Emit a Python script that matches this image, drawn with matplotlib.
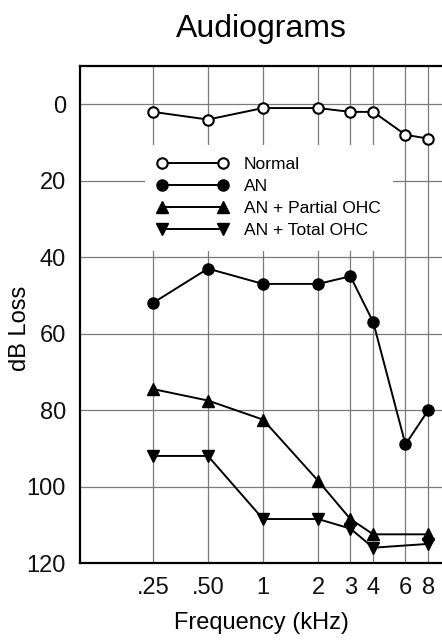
import matplotlib
matplotlib.use("Agg")
import matplotlib.pyplot as plt
from matplotlib.ticker import FixedLocator, FixedFormatter, NullLocator

plt.rcParams['font.family'] = ['Liberation Sans', 'DejaVu Sans']

freqs = [0.25, 0.5, 1, 2, 3, 4, 6, 8]
tick_labels = ['.25', '.50', '1', '2', '3', '4', '6', '8']

normal = [2, 4, 1, 1, 2, 2, 8, 9]
an = [52, 43, 47, 47, 45, 57, 89, 80]
partial_freqs = [0.25, 0.5, 1, 2, 3, 4, 8]
an_partial = [74.5, 77.5, 82.5, 98.5, 108.5, 112.5, 112.5]
total_freqs = [0.25, 0.5, 1, 2, 3, 4, 8]
an_total = [92, 92, 108.5, 108.5, 111, 116, 115]

fig = plt.figure(figsize=(4.42, 6.43), dpi=100)
ax = fig.add_axes([80/442, 1-563/643, 1-80/442, (563-66)/643])

ax.set_xscale('log')
ax.set_xlim(0.1, 9.5)
ax.set_ylim(120, -10)

lw = 1.4
ax.plot(freqs, normal, '-o', color='black', lw=lw, ms=7.5, mfc='white', mec='black', mew=1.5, label='Normal', zorder=3)
ax.plot(freqs, an, '-o', color='black', lw=lw, ms=8, label='AN', zorder=3)
ax.plot(partial_freqs, an_partial, '-^', color='black', lw=lw, ms=8, label='AN + Partial OHC', zorder=3)
ax.plot(total_freqs, an_total, '-v', color='black', lw=lw, ms=8, label='AN + Total OHC', zorder=3)

ax.xaxis.set_major_locator(FixedLocator(freqs))
ax.xaxis.set_major_formatter(FixedFormatter(tick_labels))
ax.xaxis.set_minor_locator(NullLocator())
ax.set_yticks([0, 20, 40, 60, 80, 100, 120])

ax.grid(True, which='major', color='#7a7a7a', lw=0.9, zorder=1)
ax.set_axisbelow(True)
ax.tick_params(axis='both', length=0, labelsize=17, colors='#111111')
ax.tick_params(axis='y', pad=10)
ax.tick_params(axis='x', pad=10)

for s in ['left', 'top', 'bottom']:
    ax.spines[s].set_linewidth(1.6)
ax.spines['right'].set_visible(False)

ax.set_ylabel('dB Loss', fontsize=17)
ax.yaxis.set_label_coords(-0.135, 0.473)
ax.set_xlabel('Frequency (kHz)', fontsize=17)
ax.xaxis.set_label_coords(0.5, -0.098)
ax.set_title('Audiograms', fontsize=23, pad=21)

leg = ax.legend(loc='upper left', bbox_to_anchor=(0.1547, 0.859),
                numpoints=2, fontsize=12.5, handlelength=4.1, handletextpad=0.9,
                labelspacing=0.4, borderpad=0.7, frameon=True, fancybox=False,
                facecolor='white', edgecolor='none', framealpha=1,
                markerscale=1.0)
leg.set_zorder(5)

fig.savefig('out.png', dpi=100)
